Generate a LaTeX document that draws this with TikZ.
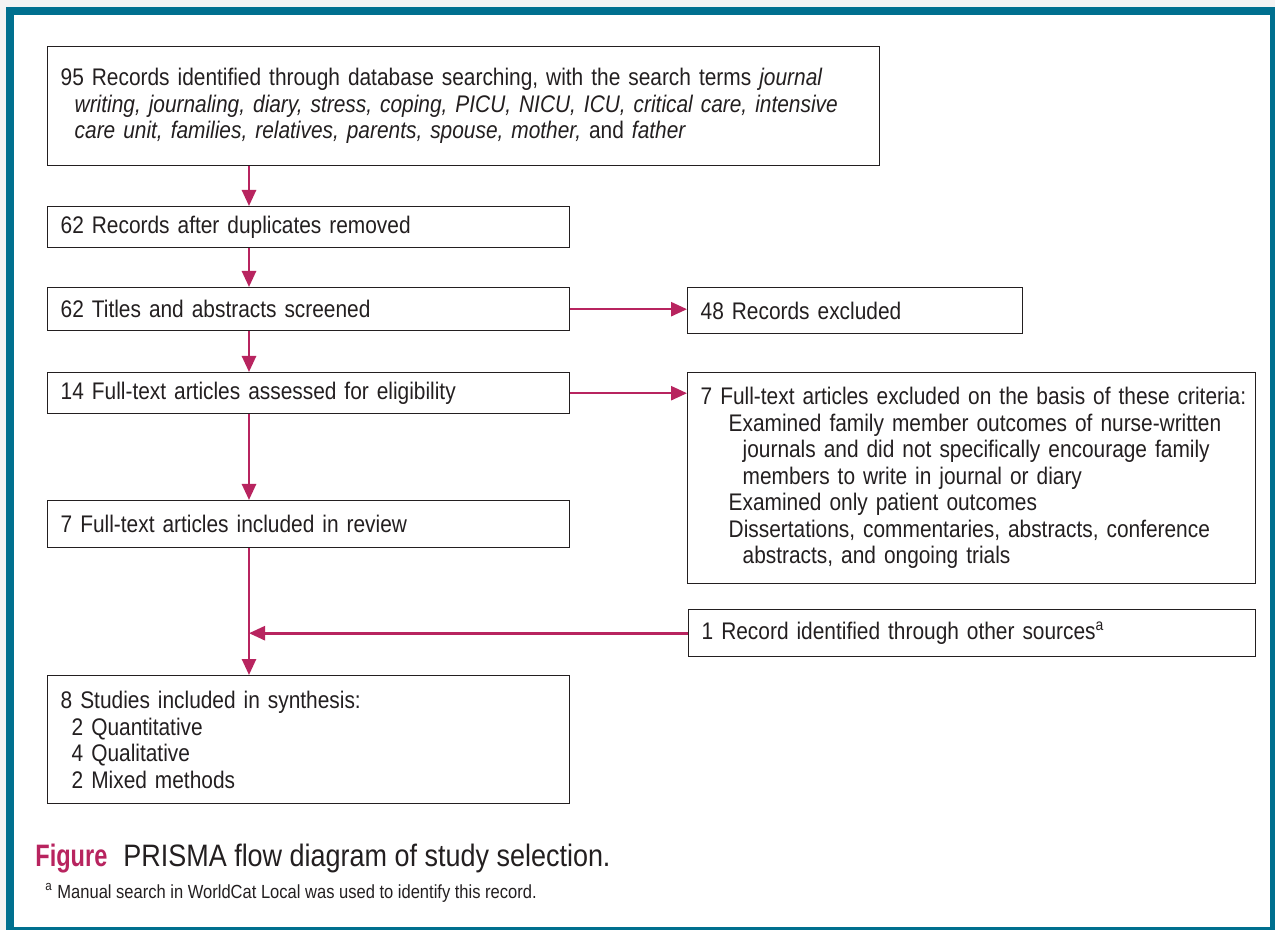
\documentclass[tikz,border=0pt]{standalone}
\usepackage{fontspec}
\setmainfont{Liberation Sans}[FakeStretch=0.87]
\newfontfamily\figfont{Liberation Sans}[FakeStretch=0.76]
\usetikzlibrary{arrows.meta, positioning, calc}
\definecolor{FrameTeal}{HTML}{00708F}
\definecolor{FlowPink}{HTML}{B8245F}
\definecolor{InkDark}{HTML}{231F20}
\definecolor{PageGray}{HTML}{F3F3F3}

\begin{document}
\begin{tikzpicture}[x=0.5pt, y=-0.5pt,
    box/.style={draw=InkDark, line width=0.7pt, anchor=north west, inner xsep=6.5pt,
        inner ysep=0pt, align=left, text=InkDark, font=\fontsize{12}{13.25}\selectfont},
    flow/.style={draw=FlowPink, line width=1.3pt, -{Triangle[length=8pt, width=7pt]}}]
    % Page and frame
    \useasboundingbox (0,0) rectangle (1275,930);
    \fill[PageGray] (0,0) rectangle (1275,930);
    \fill[FrameTeal] (6,7) rectangle (1275,930);
    \fill[white] (14,15) rectangle (1270,927);

    % Column of the main flow
    \coordinate (spine) at (249,0);

    % Left column
    \node[box, text width=402.8pt, minimum height=59.5pt] (ident) at (47,46)
        {\mbox{95 Records identified through database searching, with the search terms \textit{journal}}\\
         \mbox{\hspace*{7pt}\textit{writing, journaling, diary, stress, coping, PICU, NICU, ICU, critical care, intensive}}\\
         \mbox{\hspace*{7pt}\textit{care unit, families, relatives, parents, spouse, mother,} and \textit{father}}};
    \node[box, text width=247.8pt, minimum height=20.5pt] (dupl) at (47,206)
        {62 Records after duplicates removed};
    \node[box, text width=247.8pt, minimum height=21.5pt] (screen) at (47,287)
        {62 Titles and abstracts screened};
    \node[box, text width=247.8pt, minimum height=20.5pt] (elig) at (47,372)
        {14 Full-text articles assessed for eligibility};
    \node[box, text width=247.8pt, minimum height=23.5pt] (review) at (47,500)
        {7 Full-text articles included in review};
    \node[box, text width=247.8pt, minimum height=64pt] (synth) at (47,675)
        {8 Studies included in synthesis:\\
         \hspace*{5.5pt}2 Quantitative\\
         \hspace*{5.5pt}4 Qualitative\\
         \hspace*{5.5pt}2 Mixed methods};

    % Right column
    \node[box, text width=154.3pt, minimum height=23pt] (recex) at (687,287)
        {48 Records excluded};
    \node[box, text width=270.8pt, minimum height=105.5pt] (fullex) at (687,372)
        {\mbox{7 Full-text articles excluded on the basis of these criteria:}\\
         \mbox{\hspace*{14pt}Examined family member outcomes of nurse-written}\\
         \mbox{\hspace*{21pt}journals and did not specifically encourage family}\\
         \hspace*{21pt}members to write in journal or diary\\
         \hspace*{14pt}Examined only patient outcomes\\
         \mbox{\hspace*{14pt}Dissertations, commentaries, abstracts, conference}\\
         \hspace*{21pt}abstracts, and ongoing trials};
    \node[box, text width=270.3pt, minimum height=23.5pt] (other) at (688,609)
        {1 Record identified through other sources\textsuperscript{a}};

    % Connectors
    \draw[flow] (ident.south -| spine) -- (dupl.north -| spine);
    \draw[flow] (dupl.south -| spine) -- (screen.north -| spine);
    \draw[flow] (screen.south -| spine) -- (elig.north -| spine);
    \draw[flow] (elig.south -| spine) -- (review.north -| spine);
    \draw[flow] (review.south -| spine) -- (synth.north -| spine);
    \draw[flow] (screen.east) -- (screen.east -| recex.west);
    \draw[flow] (elig.east) -- (elig.east -| fullex.west);
    \draw[flow] (other.west) -- (other.west -| spine);

    % Caption
    \node[anchor=base west, inner sep=0pt, text=InkDark, font=\fontsize{15.5}{18}\selectfont] (caption) at (35,866)
        {\textcolor{FlowPink}{\figfont\bfseries Figure}\hspace{8pt}PRISMA flow diagram of study selection.};
    \node[anchor=base west, inner sep=0pt, text=InkDark, font=\fontsize{9.5}{11}\selectfont] (note) at (45,898)
        {\textsuperscript{a} Manual search in WorldCat Local was used to identify this record.};
\end{tikzpicture}
\end{document}
